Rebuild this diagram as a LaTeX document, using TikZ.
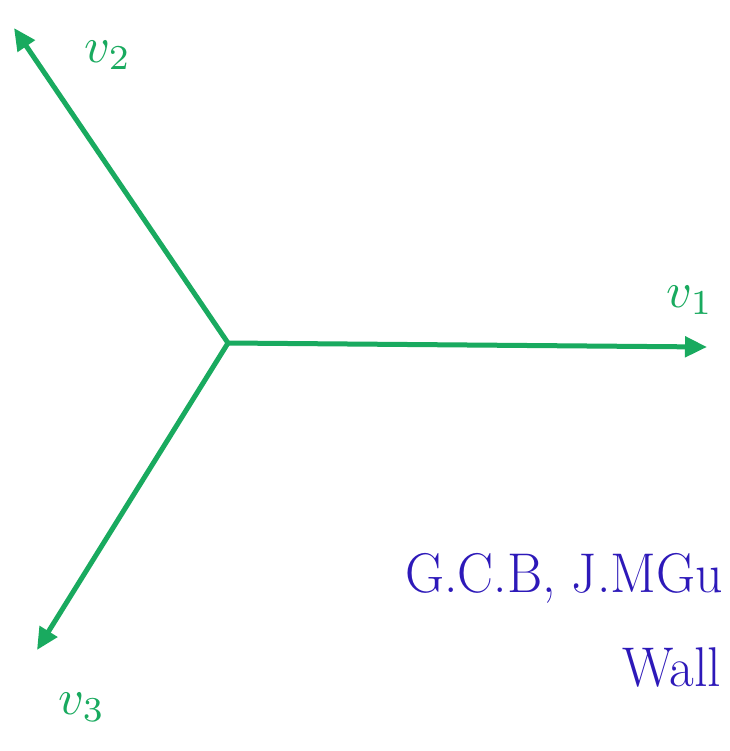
\documentclass[tikz,border=0pt]{standalone}
\usepackage{fontspec}
\usetikzlibrary{arrows.meta}
\definecolor{pen}{RGB}{25,170,95}
\definecolor{ink}{RGB}{45,25,185}
\begin{document}
\begin{tikzpicture}[x=1pt,y=-1pt,
  vec/.style={draw=pen,line width=5pt,line cap=round,-{Triangle[length=22pt,width=20pt]}},
  lab/.style={text=pen,scale=5,inner sep=0pt},
  note/.style={text=ink,font=\fontsize{56}{60}\selectfont,anchor=base west,inner sep=0pt,xscale=0.96}]
\useasboundingbox (0,0) rectangle (729,751);
\fill[white] (0,0) rectangle (729,751);
\coordinate (o) at (228,343);
\coordinate (t1) at (707,347);
\coordinate (t2) at (14,28);
\coordinate (t3) at (37,650);
\draw[vec] (o) -- (t1);
\draw[vec] (o) -- (t2);
\draw[vec] (o) -- (t3);
\node[lab] (l2) at (108,55) {$v_2$};
\node[lab] (l1) at (690,300) {$v_1$};
\node[lab] (l3) at (82,707) {$v_3$};
\node[note] (n1) at (405,592) {G.C.B, J.MGu};
\node[note] (n2) at (622,686) {Wall};
\end{tikzpicture}
\end{document}
